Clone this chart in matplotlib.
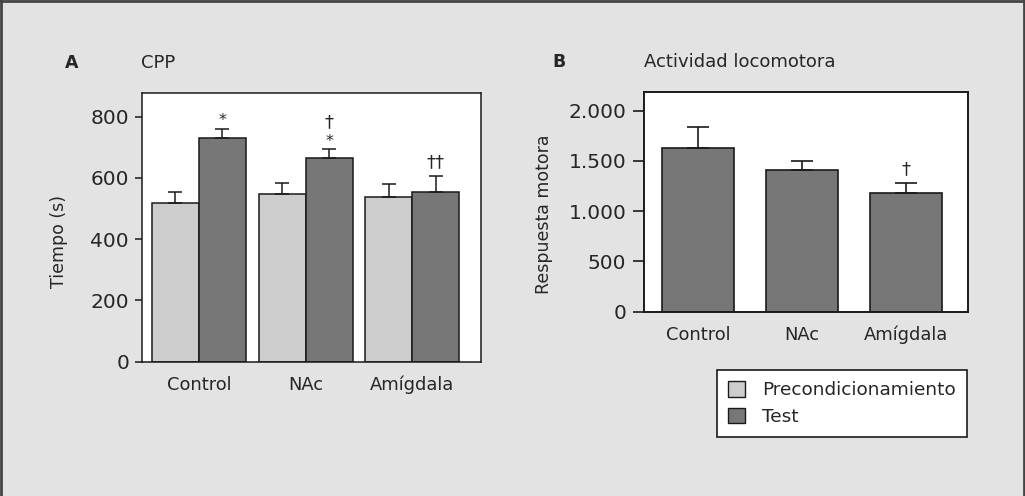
import numpy as np
import matplotlib.pyplot as plt
from matplotlib.patches import Patch
from matplotlib.lines import Line2D

plt.rcParams['font.family'] = ['DejaVu Sans']

# panel A: CPP
groups = ["Control", "NAc", "Amígdala"]
pre_mean = [517, 547, 539]
pre_err = [38, 35, 42]
test_mean = [731, 665, 554]
test_err = [30, 29, 52]
test_marks = ["*", "*", ""]
test_marks2 = ["", "†", "††"]

# panel B: locomotor activity
loco_mean = [1625, 1410, 1180]
loco_err = [213, 90, 100]
loco_marks = ["", "", "†"]

light = "#cdcdcd"
dark = "#777777"
edge = "#1a1a1a"
bg = "#e3e3e3"
txt = "#262626"

fig = plt.figure(figsize=(10.25, 4.96), dpi=100)
fig.patch.set_facecolor(bg)

# ---- A ----
ax = fig.add_axes([0.1382, 0.2708, 0.3307, 0.5411])
x = np.arange(len(groups))
w = 0.44
ax.bar(x - w / 2, pre_mean, w, color=light, edgecolor=edge, linewidth=1.1)
ax.bar(x + w / 2, test_mean, w, color=dark, edgecolor=edge, linewidth=1.1)
ax.errorbar(x - w / 2, pre_mean, yerr=[np.zeros(3), pre_err], fmt="none",
            ecolor=edge, elinewidth=1.1, capsize=4.7, capthick=1.1)
ax.errorbar(x + w / 2, test_mean, yerr=[np.zeros(3), test_err], fmt="none",
            ecolor=edge, elinewidth=1.1, capsize=4.7, capthick=1.1)
for i in range(3):
    top = test_mean[i] + test_err[i]
    if test_marks[i]:
        ax.text(x[i] + w / 2, top + 25, test_marks[i], ha="center", va="center",
                fontsize=11.5, color=txt)
    if test_marks2[i]:
        off = 87 if test_marks[i] else 46
        ax.text(x[i] + w / 2, top + off, test_marks2[i], ha="center", va="center",
                fontsize=13, color=txt)
ax.set_xlim(-0.535, 2.64)
ax.set_ylim(0, 876)
ax.set_yticks([0, 200, 400, 600, 800])
ax.set_xticks(x)
ax.set_xticklabels(groups)
ax.set_ylabel("Tiempo (s)", fontsize=12.5, color=txt)
ax.yaxis.set_label_coords(-0.217, 0.448)
ax.text(-0.206, 1.113, "A", transform=ax.transAxes, fontsize=12.5, fontweight="bold",
        ha="center", va="center", color=txt)
ax.text(-0.003, 1.113, "CPP", transform=ax.transAxes, fontsize=13,
        ha="left", va="center", color=txt)
for s in ax.spines.values():
    s.set_linewidth(1.1)
ax.tick_params(axis="y", length=4.8, width=1.1, pad=4.3)

# ---- B ----
bx = fig.add_axes([0.6283, 0.3716, 0.3164, 0.4423])
bx.bar(x, loco_mean, 0.7, color=dark, edgecolor=edge, linewidth=1.2)
bx.errorbar(x, loco_mean, yerr=[np.zeros(3), loco_err], fmt="none",
            ecolor=edge, elinewidth=1.2, capsize=7.8, capthick=1.2)
for i in range(3):
    if loco_marks[i]:
        bx.text(x[i], loco_mean[i] + loco_err[i] + 135, loco_marks[i],
                ha="center", va="center", fontsize=13, color=txt)
bx.set_xlim(-0.52, 2.6)
bx.set_ylim(0, 2183)
bx.set_yticks([0, 500, 1000, 1500, 2000])
bx.set_yticklabels(["0", "500", "1.000", "1.500", "2.000"])
bx.set_xticks(x)
bx.set_xticklabels(groups)
bx.set_ylabel("Respuesta motora", fontsize=12.5, color=txt)
bx.yaxis.set_label_coords(-0.281, 0.445)
bx.text(-0.262, 1.138, "B", transform=bx.transAxes, fontsize=12.5, fontweight="bold",
        ha="center", va="center", color=txt)
bx.text(0.0, 1.138, "Actividad locomotora", transform=bx.transAxes, fontsize=13,
        ha="left", va="center", color=txt)
for s in bx.spines.values():
    s.set_linewidth(1.4)
bx.tick_params(axis="y", length=7.7, width=1.2, pad=5)

for a in (ax, bx):
    a.set_facecolor("white")
    for s in a.spines.values():
        s.set_color(edge)
    a.tick_params(axis="y", direction="out", color=edge,
                  labelsize=14.5, labelcolor=txt)
    a.tick_params(axis="x", length=0, labelsize=12.9, pad=10, labelcolor=txt)

handles = [Patch(facecolor=light, edgecolor=edge, label="Precondicionamiento"),
           Patch(facecolor=dark, edgecolor=edge, label="Test")]
leg = fig.legend(handles=handles, loc="upper left", bbox_to_anchor=(0.6998, 0.2540),
                 frameon=True, fancybox=False, edgecolor=edge, framealpha=1,
                 fontsize=13.3, handlelength=0.92, handleheight=0.92,
                 handletextpad=0.9, labelspacing=0.45, borderpad=0.6,
                 borderaxespad=0)
leg.get_frame().set_linewidth(1.2)
for t in leg.get_texts():
    t.set_color(txt)

# figure frame (top, left, right)
for xs, ys in [([0, 1], [0.998, 0.998]), ([0.001, 0.001], [0, 1]), ([0.999, 0.999], [0, 1])]:
    fig.add_artist(Line2D(xs, ys, transform=fig.transFigure, color="#444444", linewidth=2))

fig.savefig("out.png", dpi=100, facecolor=bg)
